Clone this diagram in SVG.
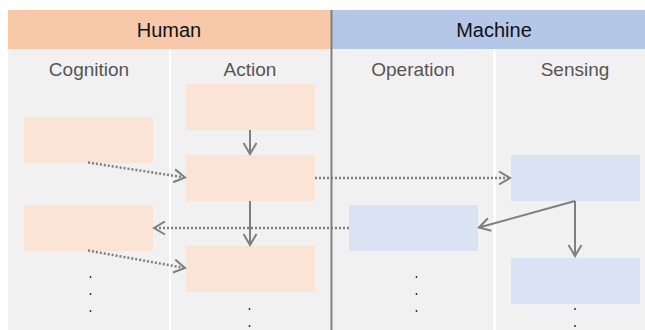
<svg xmlns="http://www.w3.org/2000/svg" width="645" height="330" viewBox="0 0 645 330">
<defs>
<style>
.hdr{font-family:"Liberation Sans",Arial,sans-serif;font-size:20px;fill:#111;text-anchor:middle}
.col{font-family:"Liberation Sans",Arial,sans-serif;font-size:19px;fill:#555;text-anchor:middle}
.lane{fill:#f1f1f1}
.hbox{fill:#fae4d6}
.mbox{fill:#dae3f3}
.solid{stroke:#7f7f7f;stroke-width:2;fill:none}
.dot{stroke:#7f7f7f;stroke-width:2.5;stroke-dasharray:2 2;fill:none}
.ell{fill:#222}
</style>
<marker id="ah" markerUnits="userSpaceOnUse" markerWidth="15" markerHeight="15" refX="12" refY="7.5" orient="auto">
<path d="M1,1 L12,7.5 L1,14" fill="none" stroke="#7f7f7f" stroke-width="2"/>
</marker>
</defs>
<rect width="645" height="330" fill="#fff"/>
<g id="lanes">
<rect class="lane" x="8" y="49" width="161" height="281"/>
<rect class="lane" x="171" y="49" width="160" height="281"/>
<rect class="lane" x="333" y="49" width="160" height="281"/>
<rect class="lane" x="496" y="49" width="159" height="281"/>
</g>
<g id="header-human">
<rect x="8" y="10" width="323" height="39" fill="#f7c9a9"/>
<text class="hdr" x="169" y="37">Human</text>
</g>
<g id="header-machine">
<rect x="332" y="10" width="323" height="39" fill="#b4c7e7"/>
<text class="hdr" x="494" y="37">Machine</text>
</g>
<line x1="331.5" y1="10" x2="331.5" y2="330" stroke="#7f7f7f" stroke-width="2"/>
<g id="col-labels">
<text class="col" x="89" y="76">Cognition</text>
<text class="col" x="250" y="76">Action</text>
<text class="col" x="413" y="76">Operation</text>
<text class="col" x="575" y="76">Sensing</text>
</g>
<g id="cog1"><rect class="hbox" x="24" y="117" width="129" height="46"/></g>
<g id="cog2"><rect class="hbox" x="24" y="205" width="129" height="46"/></g>
<g id="act1"><rect class="hbox" x="186" y="84" width="129" height="46"/></g>
<g id="act2"><rect class="hbox" x="186" y="155" width="129" height="46"/></g>
<g id="act3"><rect class="hbox" x="186" y="246" width="129" height="46"/></g>
<g id="op1"><rect class="mbox" x="349" y="205" width="129" height="46"/></g>
<g id="sen1"><rect class="mbox" x="511" y="155" width="129" height="46"/></g>
<g id="sen2"><rect class="mbox" x="511" y="258" width="129" height="46"/></g>
<g id="connectors">
<line class="solid" x1="250" y1="130" x2="250" y2="154" marker-end="url(#ah)"/>
<line class="solid" x1="250" y1="201" x2="250" y2="245" marker-end="url(#ah)"/>
<line class="dot" x1="88" y1="162.5" x2="185" y2="177.5" marker-end="url(#ah)"/>
<line class="dot" x1="88" y1="250.5" x2="185" y2="268" marker-end="url(#ah)"/>
<line class="dot" x1="315" y1="178" x2="510" y2="178" marker-end="url(#ah)"/>
<line class="dot" x1="349" y1="228" x2="154" y2="228" marker-end="url(#ah)"/>
<line class="solid" x1="575" y1="201" x2="479" y2="227.5" marker-end="url(#ah)"/>
<line class="solid" x1="575" y1="201" x2="575" y2="256" marker-end="url(#ah)"/>
</g>
<g id="ellipses">
<circle class="ell" cx="90.5" cy="277" r="0.9"/>
<circle class="ell" cx="90.5" cy="294" r="0.9"/>
<circle class="ell" cx="90.5" cy="311" r="0.9"/>
<circle class="ell" cx="416.5" cy="277" r="0.9"/>
<circle class="ell" cx="416.5" cy="294" r="0.9"/>
<circle class="ell" cx="416.5" cy="311" r="0.9"/>
<circle class="ell" cx="249.5" cy="309" r="0.9"/>
<circle class="ell" cx="249.5" cy="326" r="0.9"/>
<circle class="ell" cx="575" cy="309" r="0.9"/>
<circle class="ell" cx="575" cy="326" r="0.9"/>
</g>
</svg>
